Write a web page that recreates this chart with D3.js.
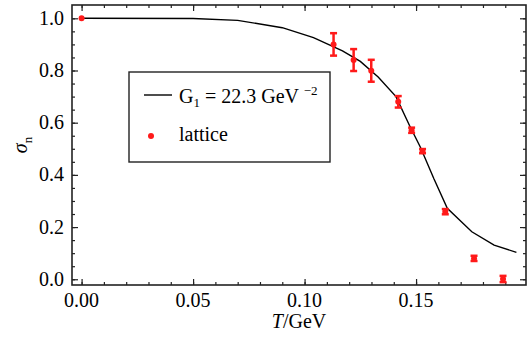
<!DOCTYPE html>
<html>
<head>
<meta charset="utf-8">
<script src="https://cdnjs.cloudflare.com/ajax/libs/d3/7.8.5/d3.min.js"></script>
<style>
    body { margin: 0; background: #fff; }
    text { font-family: "Liberation Serif", "Times New Roman", serif; }
</style>
</head>
<body>
<div id="myfigure"></div>
<script>
// model curve, G1 = 22.3 GeV^-2
var curveT = [0, 0.05, 0.07, 0.09, 0.104, 0.117, 0.125, 0.133, 0.141, 0.147, 0.152, 0.158, 0.164, 0.175, 0.185, 0.195];
var curveS = [1.0, 0.999, 0.992, 0.964, 0.926, 0.875, 0.835, 0.775, 0.70, 0.59, 0.505, 0.385, 0.272, 0.182, 0.131, 0.103];

// lattice points
var latT = [0, 0.113, 0.122, 0.1299, 0.142, 0.148, 0.1529, 0.1631, 0.176, 0.189];
var latS = [1.0, 0.900, 0.840, 0.799, 0.680, 0.571, 0.491, 0.259, 0.080, 0.001];
var latErr = [0, 0.043, 0.042, 0.042, 0.022, 0.010, 0.008, 0.010, 0.010, 0.012];

var xTicks = [0, 0.05, 0.10, 0.15];
var yTicks = [0, 0.2, 0.4, 0.6, 0.8, 1.0];

var width = 532;
var height = 338;
var margin = { left: 72, right: 6, top: 5, bottom: 53 };

var svg = d3.select("#myfigure").
    append("svg").
    attr('width', width).
    attr('height', height);

var xScale = d3.scaleLinear().
    domain([-0.0043, 0.1993]).
    range([margin.left, width - margin.right]);

var yScale = d3.scaleLinear().
    domain([-0.022, 1.051]).
    range([height - margin.bottom, margin.top]);

var x0 = margin.left, x1 = width - margin.right;
var y0 = margin.top, y1 = height - margin.bottom;

// ticks on all four sides, pointing inward
function addTicks(axis, major, minor, pos) {
    svg.append('g').
        attr('transform', pos).
        call(axis.tickValues(minor).tickSize(3).tickFormat(''));
    svg.append('g').
        attr('transform', pos).
        call(axis.tickValues(major).tickSize(6).tickFormat(''));
}
var xMinor = d3.range(0, 0.1995, 0.01);
var yMinor = d3.range(0, 1.0001, 0.05);

addTicks(d3.axisTop(xScale), xTicks, xMinor, 'translate(0,' + y1 + ')');
addTicks(d3.axisBottom(xScale), xTicks, xMinor, 'translate(0,' + y0 + ')');
addTicks(d3.axisRight(yScale), yTicks, yMinor, 'translate(' + x0 + ',0)');
addTicks(d3.axisLeft(yScale), yTicks, yMinor, 'translate(' + x1 + ',0)');

svg.selectAll('.domain').remove();
svg.selectAll('.tick line').attr('stroke', '#222').attr('stroke-width', 1.2);

// frame
svg.append('rect').
    attr('x', x0).
    attr('y', y0).
    attr('width', x1 - x0).
    attr('height', y1 - y0).
    attr('fill', 'none').
    attr('stroke', '#222').
    attr('stroke-width', 1.6);

// tick labels
svg.selectAll('.xlab').
    data(xTicks).
    enter().
    append('text').
    attr('x', function (d) { return xScale(d); }).
    attr('y', 307).
    attr('text-anchor', 'middle').
    attr('font-size', 20).
    text(function (d) { return d3.format('.2f')(d); });

svg.selectAll('.ylab').
    data(yTicks).
    enter().
    append('text').
    attr('x', 64).
    attr('y', function (d) { return yScale(d) + 6.5; }).
    attr('text-anchor', 'end').
    attr('font-size', 20).
    text(function (d) { return d3.format('.1f')(d); });

// axis titles
var xt = svg.append('text').
    attr('x', (x0 + x1) / 2).
    attr('y', 328).
    attr('text-anchor', 'middle').
    attr('font-size', 20);
xt.append('tspan').attr('font-style', 'italic').text('T');
xt.append('tspan').text('/GeV');

var yt = svg.append('text').
    attr('transform', 'translate(27,' + ((y0 + y1) / 2) + ') rotate(-90)').
    attr('text-anchor', 'middle').
    attr('font-size', 20);
yt.append('tspan').attr('font-style', 'italic').text('σ');
yt.append('tspan').attr('font-size', 13).attr('dy', 5).text('n');

// model curve
var line = d3.line().
    x(function (d, i) { return xScale(curveT[i]); }).
    y(function (d, i) { return yScale(curveS[i]); });

svg.append('path').
    datum(curveS).
    attr('d', line).
    attr('fill', 'none').
    attr('stroke', '#000').
    attr('stroke-width', 1.4);

// lattice error bars
var red = '#ff1a1a';
var errData = latS.map(function (d, i) {
    return { t: latT[i], s: d, e: latErr[i] };
}).filter(function (d) { return d.e > 0; });

var eb = svg.selectAll('.err').
    data(errData).
    enter().
    append('g').
    attr('stroke', red).
    attr('stroke-width', 2.5);

eb.append('line').
    attr('x1', function (d) { return xScale(d.t); }).
    attr('x2', function (d) { return xScale(d.t); }).
    attr('y1', function (d) { return yScale(d.s - d.e); }).
    attr('y2', function (d) { return yScale(d.s + d.e); });

[1, -1].forEach(function (sgn) {
    eb.append('line').
        attr('x1', function (d) { return xScale(d.t) - 3.5; }).
        attr('x2', function (d) { return xScale(d.t) + 3.5; }).
        attr('y1', function (d) { return yScale(d.s + sgn * d.e); }).
        attr('y2', function (d) { return yScale(d.s + sgn * d.e); });
});

svg.selectAll('.pt').
    data(latS).
    enter().
    append('circle').
    attr('cx', function (d, i) { return xScale(latT[i]); }).
    attr('cy', function (d) { return yScale(d); }).
    attr('r', 3).
    attr('fill', red);

// legend
var lg = svg.append('g');
lg.append('rect').
    attr('x', 129).
    attr('y', 72).
    attr('width', 201).
    attr('height', 90).
    attr('fill', '#fff').
    attr('stroke', '#222').
    attr('stroke-width', 1.4);

lg.append('line').
    attr('x1', 144).
    attr('x2', 172).
    attr('y1', 95).
    attr('y2', 95).
    attr('stroke', '#000').
    attr('stroke-width', 1.4);

var lt = lg.append('text').
    attr('x', 179).
    attr('y', 103).
    attr('font-size', 20);
lt.append('tspan').text('G');
lt.append('tspan').attr('font-size', 13).attr('dy', 4).text('1');
lt.append('tspan').attr('dy', -4).text(' = 22.3 GeV ');
lt.append('tspan').attr('font-size', 13).attr('dy', -8).text('\u22122');

lg.append('circle').
    attr('cx', 151).
    attr('cy', 136).
    attr('r', 3).
    attr('fill', red);

lg.append('text').
    attr('x', 179).
    attr('y', 141).
    attr('font-size', 20).
    text('lattice');
</script>
</body>
</html>
